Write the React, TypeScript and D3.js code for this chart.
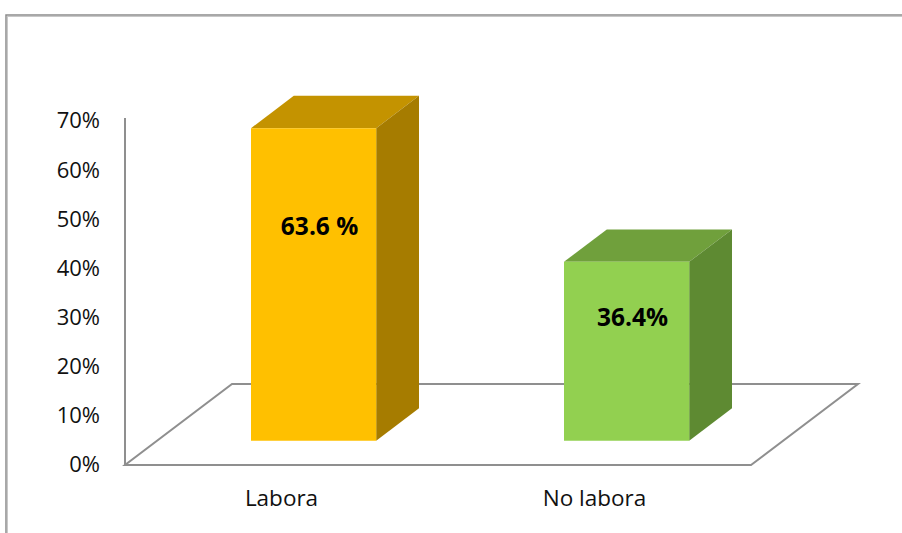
import React from "react";
import * as d3 from "d3";

const categories = ["Labora", "No labora"];
const values = [0.636, 0.364];
const valueLabels = ["63.6 %", "36.4%"];
const tickValues = [0, 0.1, 0.2, 0.3, 0.4, 0.5, 0.6, 0.7];
const frontColors = ["#FFC000", "#92D050"];
const topColors = ["#C49300", "#70A03C"];
const sideColors = ["#A67C00", "#5E8A32"];

const W = 902;
const H = 533;
const DX = 107;
const DY = -81;
const FONT = "'Open Sans', sans-serif";

export default function App() {
  const x = d3.scaleBand<string>().domain(categories).range([125, 751]).padding(0);
  const y = d3.scaleLinear().domain([0, 0.7]).range([465, 121]);
  const P = (px: number, v: number, d: number): [number, number] => [px + d * DX, y(v) + d * DY];
  const poly = (pts: [number, number][]) => pts.map((p) => p.join(",")).join(" ");
  const fmt = d3.format(".0%");

  const bw = x.bandwidth();
  const d0 = 0.3;
  const d1 = 0.7;

  return (
    <svg width={W} height={H} style={{ position: "absolute", left: 0, top: 0, background: "#fff" }}>
      <rect x={6} y={15} width={2000} height={2000} fill="none" stroke="#8c8c8c" strokeWidth={1.5} />
      <rect x={7.5} y={16.5} width={2000} height={2000} fill="none" stroke="#c8c8c8" strokeWidth={1} />
      {/* floor */}
      <polygon
        points={poly([P(125, 0, 0), P(751, 0, 0), P(751, 0, 1), P(125, 0, 1)])}
        fill="none"
        stroke="#8f8f8f"
        strokeWidth={2}
      />
      {/* value axis */}
      <line x1={125} x2={125} y1={y(0)} y2={y(0.7) - 3} stroke="#8f8f8f" strokeWidth={2} />
      {tickValues.map((t) => (
        <text key={t} x={100} y={y(t) + 1.5} textAnchor="end" dominantBaseline="middle" fontFamily={FONT} fontSize={22} fill="#111">
          {fmt(t)}
        </text>
      ))}
      {categories.map((c, i) => {
        const l = (x(c) as number) + bw * 0.3;
        const r = l + bw * 0.4;
        const v = values[i];
        return (
          <g key={c}>
            <polygon points={poly([P(l, v, d0), P(r, v, d0), P(r, v, d1), P(l, v, d1)])} fill={topColors[i]} />
            <polygon points={poly([P(r, 0, d0), P(r, 0, d1), P(r, v, d1), P(r, v, d0)])} fill={sideColors[i]} />
            <polygon points={poly([P(l, 0, d0), P(r, 0, d0), P(r, v, d0), P(l, v, d0)])} fill={frontColors[i]} />
            <text
              x={P((l + r) / 2, 0, d0)[0] + 6}
              y={P(0, v * 0.68, d0)[1]}
              textAnchor="middle"
              dominantBaseline="middle"
              fontFamily={FONT}
              fontWeight="bold"
              fontSize={24.5}
              fill="#000"
            >
              {valueLabels[i]}
            </text>
            <text
              x={(x(c) as number) + bw / 2}
              y={500}
              textAnchor="middle"
              dominantBaseline="middle"
              fontFamily={FONT}
              fontSize={22.5}
              fill="#111"
            >
              {c}
            </text>
          </g>
        );
      })}
    </svg>
  );
}
